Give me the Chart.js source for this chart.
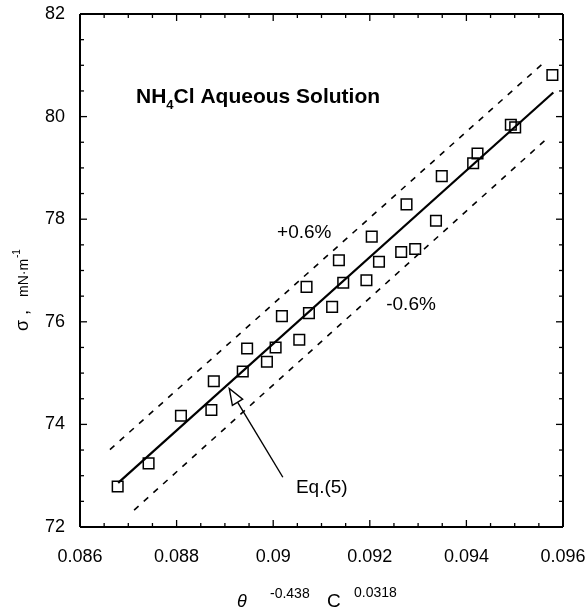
<!DOCTYPE html>
<html>
<head>
<meta charset="utf-8">
<script src="https://cdn.jsdelivr.net/npm/chart.js@4.4.1/dist/chart.umd.min.js"></script>
<style>
  html, body { margin: 0; padding: 0; background: #fff; }
</style>
</head>
<body>
<canvas id="surfaceChart" width="587" height="616"></canvas>
<script>
const FONT = "'Liberation Sans', Arial, Helvetica, sans-serif";

/* measured points: theta^-0.438 C^0.0318  vs  sigma (mN/m) */
const xValues = [0.08678, 0.08742, 0.08809, 0.08872, 0.08877, 0.08937, 0.08946, 0.08987,
  0.09005, 0.09018, 0.09054, 0.09069, 0.09074, 0.09122, 0.09136, 0.09145, 0.09193,
  0.09204, 0.09219, 0.09265, 0.09276, 0.09294, 0.09337, 0.09349, 0.09414, 0.09423,
  0.09492, 0.09501, 0.09578];
const sigmaValues = [72.79, 73.24, 74.17, 74.28, 74.84, 75.03, 75.48, 75.22,
  75.50, 76.11, 75.65, 76.68, 76.17, 76.29, 77.20, 76.76, 76.81,
  77.66, 77.17, 77.36, 78.29, 77.42, 77.97, 78.84, 79.09, 79.28,
  79.84, 79.79, 80.81];

/* Eq.(5) and the +/-0.6% band (end points) */
const eqX = [0.08679, 0.09580];
const eqY = [72.86, 80.47];
const upperX = [0.08662, 0.09559];
const upperY = [73.51, 81.04];
const lowerX = [0.08712, 0.09563];
const lowerY = [72.33, 79.54];

const xTicks = [0.086, 0.088, 0.09, 0.092, 0.094, 0.096];
const yTicks = [72, 74, 76, 78, 80, 82];

/* arrow for the Eq.(5) note, in data units */
const eqArrowFrom = [0.09020, 72.97];
const eqArrowTo = [0.08909, 74.70];

const pts = (xs, ys) => xs.map((v, i) => ({ x: v, y: ys[i] }));

/* frame with inward ticks on all four sides */
const frameTicks = {
  id: "frameTicks",
  afterDraw(chart) {
    const { ctx, scales: { x, y } } = chart;
    const L = Math.round(x.getPixelForValue(x.min)), R = Math.round(x.getPixelForValue(x.max));
    const T = Math.round(y.getPixelForValue(y.max)), B = Math.round(y.getPixelForValue(y.min));
    const line = (x1, y1, x2, y2) => {
      ctx.beginPath(); ctx.moveTo(x1, y1); ctx.lineTo(x2, y2); ctx.stroke();
    };
    ctx.save();
    ctx.strokeStyle = "#000";
    ctx.lineWidth = 1.3;
    for (let i = 0; i < xTicks.length; i++) {
      for (let k = 0; k < 4; k++) {
        if (i === xTicks.length - 1 && k > 0) break;
        const v = k === 0 ? xTicks[i] : xTicks[i] + (xTicks[i + 1] - xTicks[i]) * k / 4;
        const len = k === 0 ? 7 : 4;
        const px = x.getPixelForValue(v);
        line(px, B, px, B - len);
        line(px, T, px, T + len);
      }
    }
    for (let i = 0; i < yTicks.length; i++) {
      for (let k = 0; k < 4; k++) {
        if (i === yTicks.length - 1 && k > 0) break;
        const v = k === 0 ? yTicks[i] : yTicks[i] + (yTicks[i + 1] - yTicks[i]) * k / 4;
        const len = k === 0 ? 7 : 4;
        const py = y.getPixelForValue(v);
        line(L, py, L + len, py);
        line(R, py, R - len, py);
      }
    }
    ctx.lineWidth = 2;
    line(L, T, R, T);
    line(R, T, R, B);
    line(R, B, L, B);
    line(L, B, L, T);
    ctx.restore();
  }
};

/* labels, arrow and axis titles */
const notes = {
  id: "notes",
  afterDraw(chart) {
    const { ctx, scales: { x, y } } = chart;
    const px = v => x.getPixelForValue(v);
    const py = v => y.getPixelForValue(v);
    ctx.save();
    ctx.fillStyle = "#000";
    ctx.strokeStyle = "#000";
    ctx.textBaseline = "alphabetic";

    // NH4Cl Aqueous Solution
    let cx = px(0.08716), cy = py(80.27);
    ctx.font = "bold 21px " + FONT;
    ctx.fillText("NH", cx, cy);
    cx += ctx.measureText("NH").width;
    ctx.font = "bold 13px " + FONT;
    ctx.fillText("4", cx, cy + 6);
    cx += ctx.measureText("4").width;
    ctx.font = "bold 21px " + FONT;
    ctx.fillText("Cl Aqueous Solution", cx, cy);

    ctx.font = "19px " + FONT;
    ctx.textBaseline = "middle";
    ctx.fillText("+0.6%", px(0.09008), py(77.73));
    ctx.fillText("-0.6%", px(0.09234), py(76.33));
    ctx.fillText("Eq.(5)", px(0.09047), py(72.76));

    // arrow to Eq.(5)
    const tx = px(eqArrowFrom[0]), ty = py(eqArrowFrom[1]);
    const hx = px(eqArrowTo[0]), hy = py(eqArrowTo[1]);
    const ang = Math.atan2(hy - ty, hx - tx);
    const hl = 16, hw = 6;
    const bx = hx - hl * Math.cos(ang), by = hy - hl * Math.sin(ang);
    ctx.lineWidth = 1.4;
    ctx.beginPath(); ctx.moveTo(tx, ty); ctx.lineTo(bx, by); ctx.stroke();
    ctx.beginPath();
    ctx.moveTo(hx, hy);
    ctx.lineTo(bx + hw * Math.sin(ang), by - hw * Math.cos(ang));
    ctx.lineTo(bx - hw * Math.sin(ang), by + hw * Math.cos(ang));
    ctx.closePath();
    ctx.fillStyle = "#fff"; ctx.fill();
    ctx.stroke();
    ctx.fillStyle = "#000";

    // x axis title
    ctx.textBaseline = "alphabetic";
    ctx.font = "italic 18px " + FONT;
    ctx.fillText("\u03b8", 237, 607);
    ctx.font = "14px " + FONT;
    ctx.fillText("-0.438", 270, 598);
    ctx.font = "19px " + FONT;
    ctx.fillText("C", 327, 607);
    ctx.font = "14px " + FONT;
    ctx.fillText("0.0318", 354, 597);

    // y axis title
    ctx.translate(28, 331);
    ctx.rotate(-Math.PI / 2);
    ctx.font = "18px " + FONT;
    ctx.fillText("\u03c3 ,", 0, 0);
    ctx.font = "14px " + FONT;
    ctx.fillText("mN\u00b7m", 34, 0);
    ctx.font = "10px " + FONT;
    ctx.fillText("-1", 73, -8);
    ctx.restore();
  }
};

const ctx = document.getElementById("surfaceChart");

new Chart(ctx, {
  type: "scatter",
  data: {
    datasets: [
      {
        label: "Eq.(5)",
        data: pts(eqX, eqY),
        showLine: true,
        borderColor: "#000",
        borderWidth: 2.2,
        pointRadius: 0
      },
      {
        label: "+0.6%",
        data: pts(upperX, upperY),
        showLine: true,
        borderColor: "#000",
        borderWidth: 1.6,
        borderDash: [6, 7],
        pointRadius: 0
      },
      {
        label: "-0.6%",
        data: pts(lowerX, lowerY),
        showLine: true,
        borderColor: "#000",
        borderWidth: 1.6,
        borderDash: [6, 7],
        pointRadius: 0
      },
      {
        label: "NH4Cl",
        data: pts(xValues, sigmaValues),
        pointStyle: "rect",
        pointRadius: 7.5,
        borderWidth: 1.5,
        borderColor: "#000",
        backgroundColor: "rgba(0,0,0,0)"
      }
    ]
  },
  options: {
    responsive: false,
    animation: false,
    layout: { padding: { top: 14, right: 24, left: 0, bottom: 0 } },
    plugins: {
      legend: { display: false },
      tooltip: { enabled: false }
    },
    scales: {
      x: {
        type: "linear",
        min: 0.086,
        max: 0.096,
        afterBuildTicks: s => { s.ticks = xTicks.map(v => ({ value: v })); },
        afterFit: s => { s.height = 89; s.paddingLeft = 0; s.paddingRight = 0; },
        grid: { display: false, drawTicks: false },
        border: { display: false },
        ticks: {
          autoSkip: false,
          maxRotation: 0,
          padding: 19,
          color: "#000",
          font: { family: FONT, size: 18 },
          callback: v => String(+v.toFixed(4))
        }
      },
      y: {
        min: 72,
        max: 82,
        afterBuildTicks: s => { s.ticks = yTicks.map(v => ({ value: v })); },
        afterFit: s => { s.width = 80; s.paddingTop = 0; s.paddingBottom = 0; },
        grid: { display: false, drawTicks: false },
        border: { display: false },
        ticks: {
          padding: 15,
          color: "#000",
          font: { family: FONT, size: 18 }
        }
      }
    }
  },
  plugins: [frameTicks, notes]
});
</script>
</body>
</html>
